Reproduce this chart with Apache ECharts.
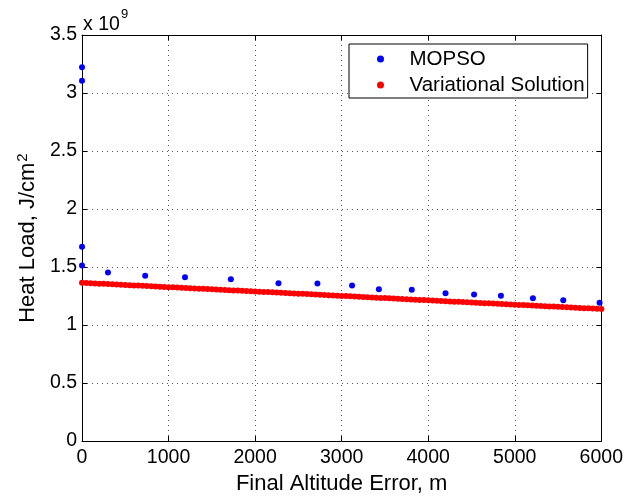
<!DOCTYPE html>
<html>
<head>
<meta charset="utf-8">
<script src="https://cdn.jsdelivr.net/npm/echarts@6/dist/echarts.min.js"></script>
<style>
  html, body { margin: 0; padding: 0; background: #fff; }
  #chart { width: 626px; height: 500px; }
</style>
</head>
<body>
<div id="chart"></div>
<script>
// Heat load values are in units of 10^9 J/cm^2 (the axis multiplier is drawn separately).

// MOPSO Pareto points: final altitude error (m) and heat load
const mopsoAltitude = [0, 0, 0, 0, 300, 730, 1190, 1720, 2270, 2720,
                       3120, 3430, 3810, 4200, 4530, 4840, 5210, 5560, 5980];
const mopsoHeatLoad = [3.222, 3.106, 1.674, 1.514, 1.454, 1.426, 1.412, 1.395, 1.360, 1.358,
                       1.341, 1.309, 1.304, 1.275, 1.264, 1.253, 1.232, 1.213, 1.193];

// Variational solution sampled every 50 m from 0 to 6000 m
const variationalStep = 50;
const variationalHeatLoad = [
  1.365, 1.363, 1.361, 1.359, 1.357, 1.356, 1.354, 1.352, 1.350, 1.348,
  1.346, 1.344, 1.342, 1.340, 1.339, 1.337, 1.335, 1.333, 1.331, 1.329,
  1.327, 1.325, 1.323, 1.321, 1.320, 1.318, 1.316, 1.314, 1.312, 1.310,
  1.308, 1.306, 1.304, 1.303, 1.301, 1.299, 1.297, 1.295, 1.293, 1.291,
  1.289, 1.287, 1.286, 1.284, 1.282, 1.280, 1.278, 1.276, 1.274, 1.272,
  1.270, 1.269, 1.267, 1.265, 1.263, 1.261, 1.259, 1.257, 1.255, 1.253,
  1.251, 1.250, 1.248, 1.246, 1.244, 1.242, 1.240, 1.238, 1.236, 1.234,
  1.233, 1.231, 1.229, 1.227, 1.225, 1.223, 1.221, 1.219, 1.217, 1.216,
  1.214, 1.212, 1.210, 1.208, 1.206, 1.204, 1.202, 1.200, 1.199, 1.197,
  1.195, 1.193, 1.191, 1.189, 1.187, 1.185, 1.183, 1.181, 1.180, 1.178,
  1.176, 1.174, 1.172, 1.170, 1.168, 1.166, 1.164, 1.163, 1.161, 1.159,
  1.157, 1.155, 1.153, 1.151, 1.149, 1.147, 1.146, 1.144, 1.142, 1.140,
  1.138
];

const seriesNames = ['MOPSO', 'Variational Solution'];
const xTicks = { min: 0, max: 6000, interval: 1000 };
const yTicks = { min: 0, max: 3.5, interval: 0.5 };

const FONT = '"Liberation Sans", Arial, Helvetica, sans-serif';
const TICK_SIZE = 19.5;
const TITLE_SIZE = 22;

const mopsoData = mopsoAltitude.map((x, i) => [x, mopsoHeatLoad[i]]);
const variationalData = variationalHeatLoad.map((v, i) => [i * variationalStep, v]);

const chart = echarts.init(document.getElementById('chart'), null, { renderer: 'canvas' });

const gridLine = { show: true, lineStyle: { color: '#555', width: 1, type: [1, 4] } };
const boxLine = { show: true, onZero: false, lineStyle: { color: '#000', width: 1 } };
const inTick = { show: true, inside: true, length: 5, lineStyle: { color: '#000' } };

chart.setOption({
  animation: false,
  backgroundColor: '#fff',
  textStyle: { fontFamily: FONT },
  grid: { left: 82, right: 22, top: 35, bottom: 55, containLabel: false },
  legend: {
    orient: 'vertical',
    left: 349,
    top: 44,
    data: seriesNames,
    itemWidth: 48,
    itemHeight: 7,
    itemGap: 2,
    padding: [3, 3, 1, 28],
    backgroundColor: '#fff',
    borderColor: '#000',
    borderWidth: 1,
    borderRadius: 0,
    textStyle: { fontFamily: FONT, fontSize: 20.5, color: '#000', lineHeight: 24 }
  },
  xAxis: [
    {
      type: 'value', position: 'bottom',
      min: xTicks.min, max: xTicks.max, interval: xTicks.interval,
      name: 'Final Altitude Error, m', nameLocation: 'middle', nameGap: 24,
      nameTextStyle: { fontFamily: FONT, fontSize: TITLE_SIZE, color: '#000' },
      axisLine: boxLine,
      axisTick: inTick,
      axisLabel: { fontFamily: FONT, fontSize: TICK_SIZE, color: '#000', margin: 7,
                   formatter: v => String(v) },
      splitLine: gridLine
    },
    {
      type: 'value', position: 'top',
      min: xTicks.min, max: xTicks.max, interval: xTicks.interval,
      axisLine: boxLine, axisTick: inTick,
      axisLabel: { show: false }, splitLine: { show: false }
    }
  ],
  yAxis: [
    {
      type: 'value', position: 'left',
      min: yTicks.min, max: yTicks.max, interval: yTicks.interval,
      name: '{a|Heat Load, J/cm}{b|2}', nameLocation: 'middle', nameGap: 40,
      nameTextStyle: {
        fontFamily: FONT, fontSize: TITLE_SIZE, color: '#000',
        rich: {
          a: { fontFamily: FONT, fontSize: TITLE_SIZE, color: '#000' },
          b: { fontFamily: FONT, fontSize: 15, color: '#000', padding: [0, 0, 10, 1] }
        }
      },
      axisLine: boxLine,
      axisTick: inTick,
      axisLabel: { fontFamily: FONT, fontSize: TICK_SIZE, color: '#000', margin: 5,
                   formatter: v => String(v) },
      splitLine: gridLine
    },
    {
      type: 'value', position: 'right',
      min: yTicks.min, max: yTicks.max, interval: yTicks.interval,
      axisLine: boxLine, axisTick: inTick,
      axisLabel: { show: false }, splitLine: { show: false }
    }
  ],
  graphic: [
    { type: 'text', left: 83, top: 15,
      style: { text: 'x 10', fontFamily: FONT, fontSize: TICK_SIZE, fill: '#000' } },
    { type: 'text', left: 121, top: 8,
      style: { text: '9', fontFamily: FONT, fontSize: 13, fill: '#000' } }
  ],
  series: [
    {
      name: seriesNames[0], type: 'scatter',
      data: mopsoData, symbol: 'circle', symbolSize: 6,
      itemStyle: { color: '#0000ff', opacity: 1 }, z: 3
    },
    {
      name: seriesNames[1], type: 'scatter',
      data: variationalData, symbol: 'circle', symbolSize: 6,
      itemStyle: { color: '#ff0000', opacity: 1 }, z: 2
    }
  ]
});
</script>
</body>
</html>
